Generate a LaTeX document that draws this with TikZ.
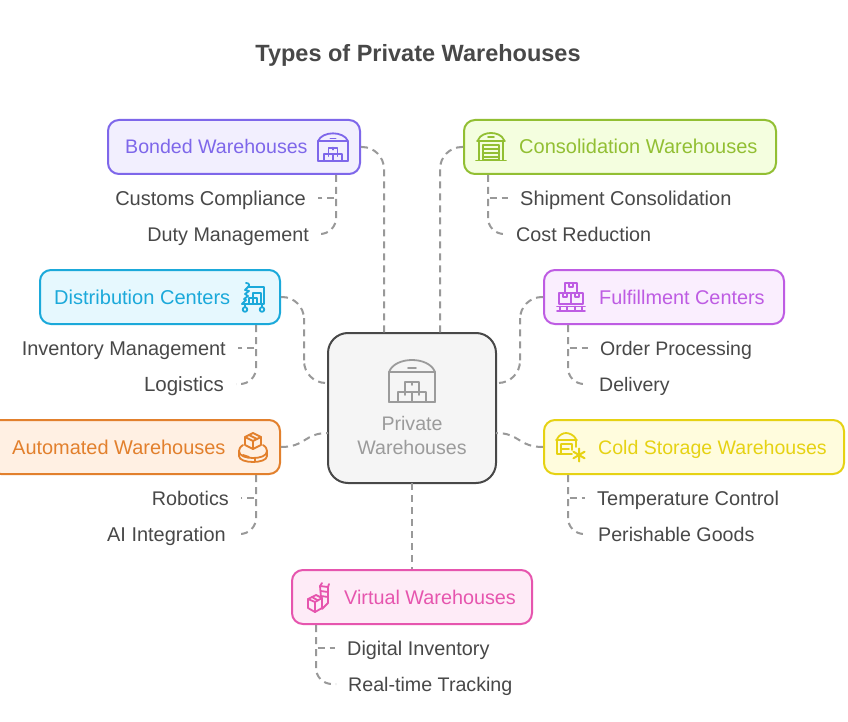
\documentclass[tikz,border=0pt]{standalone}
\usepackage{fontspec}
\setmainfont{Liberation Sans}
\definecolor{ink}{HTML}{484848}
\definecolor{mute}{HTML}{9B9B9B}
\definecolor{cdash}{HTML}{999999}
\definecolor{bondS}{HTML}{7E67EA}\definecolor{bondF}{HTML}{F2EFFE}
\definecolor{consS}{HTML}{92BF33}\definecolor{consF}{HTML}{F4FEDF}
\definecolor{distS}{HTML}{1BA9DA}\definecolor{distF}{HTML}{E6F8FE}
\definecolor{fulfS}{HTML}{BE5CE3}\definecolor{fulfF}{HTML}{FAEEFE}
\definecolor{autoS}{HTML}{E2802D}\definecolor{autoF}{HTML}{FFF0E3}
\definecolor{coldS}{HTML}{E6D213}\definecolor{coldF}{HTML}{FFFCDD}
\definecolor{virtS}{HTML}{E655AE}\definecolor{virtF}{HTML}{FEEBF7}
\tikzset{
 x=1pt,y=-1pt,
 fs/.style={font=\fontsize{#1}{24}\selectfont},
 card/.style 2 args={draw=#1,fill=#2,line width=2pt,rounded corners=11pt,minimum height=54pt,inner sep=0pt},
 cardtext/.style={anchor=west,inner sep=0pt,text=#1,fs=19.95,text height=18pt,text depth=4pt},
 leaf/.style={inner ysep=0pt,inner xsep=12pt,text=ink,fs=19.75,text height=18pt,text depth=4pt},
 conn/.style={draw=cdash,line width=2pt,dash pattern=on 7pt off 5pt},
 icon/.style={draw=#1,line width=1.8pt,line join=round,line cap=round},
 wh/.pic={
  \draw[pic actions] (-23,-9) .. controls (-20,-17) and (-10,-21) .. (0,-21) .. controls (10,-21) and (20,-17) .. (23,-9);
  \draw[pic actions] (-23,21) -- (-23,-9) -- (23,-9) -- (23,21);
  \draw[pic actions] (-23,21) -- (23,21);
  \draw[pic actions] (-4,-13) -- (4,-13);
  \draw[pic actions] (-7,1) rectangle (7,11);
  \draw[pic actions] (-14,11) rectangle (0,21);
  \draw[pic actions] (0,11) rectangle (14,21);
  \draw[pic actions] (0,1) -- (0,4) (-7,11) -- (-7,14) (7,11) -- (7,14);
 }
}
\begin{document}
\begin{tikzpicture}
\useasboundingbox (0,0) rectangle (848,722);
\fill[white] (0,0) rectangle (848,722);
\node[anchor=center,inner sep=0pt,text=ink,font=\fontsize{23.5}{28}\selectfont\bfseries] (title) at (418,55) {Types of Private Warehouses};

% central
\node[draw=ink,fill=black!4,line width=2pt,rounded corners=20pt,minimum width=168pt,minimum height=150pt,inner sep=0pt] (hub) at (412,408) {};
\node[align=center,inner sep=0pt,text=mute,font=\fontsize{19.6}{24}\selectfont] (hubtext) at (412,435) {Private\\Warehouses};
\coordinate (hubA) at (384,333); \coordinate (hubB) at (440,333);
\coordinate (hubC) at (328,383); \coordinate (hubD) at (496,383);
\coordinate (hubE) at (328,433); \coordinate (hubF) at (496,433);
\coordinate (hubG) at (412,483);

% cards
\node[card={bondS}{bondF},minimum width=252pt] (bond) at (234,147) {};
\node[card={consS}{consF},minimum width=312pt] (cons) at (620,147) {};
\node[card={distS}{distF},minimum width=240pt] (dist) at (160,297) {};
\node[card={fulfS}{fulfF},minimum width=240pt] (fulf) at (664,297) {};
\node[card={autoS}{autoF},minimum width=290pt] (auto) at (135,447) {};
\node[card={coldS}{coldF},minimum width=300pt] (cold) at (694,447) {};
\node[card={virtS}{virtF},minimum width=240pt] (virt) at (412,597) {};

\node[cardtext=bondS,fs=19.6] (bondT) at (125,147) {Bonded Warehouses};
\node[cardtext=consS,fs=20] (consT) at (519,147) {Consolidation Warehouses};
\node[cardtext=distS,fs=20.05] (distT) at (54,297) {Distribution Centers};
\node[cardtext=fulfS,fs=19.85] (fulfT) at (599,297) {Fulfillment Centers};
\node[cardtext=autoS,fs=19.95] (autoT) at (12,447) {Automated Warehouses};
\node[cardtext=coldS,fs=19.55] (coldT) at (598,447) {Cold Storage Warehouses};
\node[cardtext=virtS,fs=19.8] (virtT) at (344,597) {Virtual Warehouses};

% leaves (east / west anchor is where the connector ends)
\node[leaf,anchor=east,fs=20.05] (l1) at (318,198) {Customs Compliance};
\node[leaf,anchor=east] (l2) at (321,234) {Duty Management};
\node[leaf,anchor=west,fs=20] (l3) at (508,198) {Shipment Consolidation};
\node[leaf,anchor=west] (l4) at (504,234) {Cost Reduction};
\node[leaf,anchor=east,fs=19.95] (l5) at (238,348) {Inventory Management};
\node[leaf,anchor=east,fs=20.5] (l6) at (236,384) {Logistics};
\node[leaf,anchor=west,fs=19.5] (l7) at (588,348) {Order Processing};
\node[leaf,anchor=west,fs=19.5] (l8) at (587,384) {Delivery};
\node[leaf,anchor=east] (l9) at (241,498) {Robotics};
\node[leaf,anchor=east,fs=19.95] (l10) at (238,534) {AI Integration};
\node[leaf,anchor=west,fs=19.95] (l11) at (585,498) {Temperature Control};
\node[leaf,anchor=west,fs=19.65] (l12) at (586,534) {Perishable Goods};
\node[leaf,anchor=west,fs=19.85] (l13) at (335,648) {Digital Inventory};
\node[leaf,anchor=west,fs=19.65] (l14) at (336,684) {Real-time Tracking};

% hub connectors
\draw[conn,rounded corners=22pt] (bond.east) -| (hubA);
\draw[conn,rounded corners=22pt] (cons.west) -| (hubB);
\coordinate (jL) at (304,340); \coordinate (jR) at (520,340);
\draw[conn,rounded corners=22pt] (dist.east) -| (jL) |- (hubC);
\draw[conn,rounded corners=22pt] (fulf.west) -| (jR) |- (hubD);
\draw[conn] (auto.east) .. controls (306,447) and (304,433) .. (hubE);
\draw[conn] (cold.west) .. controls (518,447) and (520,433) .. (hubF);
\draw[conn] (hubG) -- (virt.north);

% leaf connectors
\coordinate (t1) at (336,175); \coordinate (t2) at (488,175);
\coordinate (t3) at (256,325); \coordinate (t4) at (568,325);
\coordinate (t5) at (256,475); \coordinate (t6) at (568,475);
\coordinate (t7) at (316,625);
\foreach \t/\a/\b in {t1/l1/l2,t2/l3/l4,t3/l5/l6,t4/l7/l8,t5/l9/l10,t6/l11/l12,t7/l13/l14}{
  \draw[conn,rounded corners=1pt] (\t) |- (\a);
  \draw[conn,rounded corners=16pt] (\t) |- (\b);
}

% hub icon
\pic[icon=mute] at (412,381) {wh};
% bonded icon
\pic[icon=bondS,scale=.65,line width=1.8pt] at (333,147) {wh};

% consolidation icon
\begin{scope}[icon=consS]
\draw (478,140) .. controls (480,135) and (486,133) .. (491,133) .. controls (496,133) and (502,135) .. (504,140);
\draw (477,141) -- (505,141) (479,141) -- (479,160) (503,141) -- (503,160) (476,160.5) -- (506,160.5);
\draw (488,137) -- (494,137);
\draw (483,145) rectangle (499,160);
\draw (483,149) -- (499,149) (483,153) -- (499,153) (483,157) -- (499,157);
\end{scope}

% fulfillment icon
\begin{scope}[icon=fulfS]
\draw (565,283) rectangle (577,293);
\draw (559,293) rectangle (571,304);
\draw (571,293) rectangle (583,304);
\draw (569,283) -- (569,287) -- (573,287) -- (573,283);
\draw (563,293) -- (563,297) -- (567,297) -- (567,293);
\draw (575,293) -- (575,297) -- (579,297) -- (579,293);
\draw (557,306.5) -- (585,306.5) (557,311) -- (585,311);
\draw (560,306.5) -- (560,311) (567,306.5) -- (567,311) (575,306.5) -- (575,311) (582,306.5) -- (582,311);
\end{scope}

% distribution icon
\begin{scope}[icon=distS]
\draw (246,283) .. controls (249,283) and (250,285) .. (248,287) -- (264,287) -- (264,304) -- (242,304);
\draw (248,287) -- (245,290) -- (249,291) -- (245,294) -- (248,296) -- (244,299) -- (246,300) -- (242,304);
\draw (253,293) rectangle (261,304);
\draw (249,298) rectangle (257,304);
\draw (245,309.5) circle (2.3) (262,309.5) circle (2.3);
\draw (245,304) -- (245,307) (262,304) -- (262,307);
\end{scope}

% automated icon
\begin{scope}[icon=autoS]
\draw (253,433) -- (261,437) -- (261,445) -- (253,449) -- (245,445) -- (245,437) -- cycle;
\draw (245,437) -- (253,441) -- (261,437) (253,441) -- (253,449);
\draw (249,435) -- (257,439);
\draw (243,445) .. controls (240,447) and (239,449) .. (239,451) .. controls (239,456) and (246,458) .. (253,458) .. controls (260,458) and (267,456) .. (267,451) .. controls (267,449) and (266,447) .. (263,445);
\draw (239,451) -- (239,456) .. controls (239,460) and (246,462) .. (253,462) .. controls (260,462) and (267,460) .. (267,456) -- (267,451);
\draw (243,455) -- (249,457) (255,458) -- (255,461);
\end{scope}

% cold icon
\begin{scope}[icon=coldS]
\draw (557,439) .. controls (559,435) and (563,433) .. (566,433) .. controls (569,433) and (574,435) .. (576,439);
\draw (556,440) -- (577,440) (557,440) -- (557,454) -- (572,454) (576,440) -- (576,447);
\draw (561,444) -- (572,444) -- (572,450) (561,444) -- (561,454) (561,449) -- (569,449);
\draw[line width=2pt] (579,448.5) -- (579,461.5) (573.4,451.7) -- (584.6,458.3) (573.4,458.3) -- (584.6,451.7);
\end{scope}

% virtual icon
\begin{scope}[icon=virtS]
\draw (316,595) -- (322,598) -- (322,608) -- (315,612) -- (308,608) -- (308,599) -- cycle;
\draw (308,599) -- (315,602) -- (322,598) (315,602) -- (315,612);
\draw (312,597) -- (318,600.5);
\draw (320,586) -- (322,583) (321,597) -- (320,586) (328,587) -- (329,584) (328,587) -- (328,603) -- (322,609);
\draw (320,586) -- (328,587) (320.5,591) -- (328,592) (321,596) -- (328,597);
\end{scope}
\end{tikzpicture}
\end{document}
